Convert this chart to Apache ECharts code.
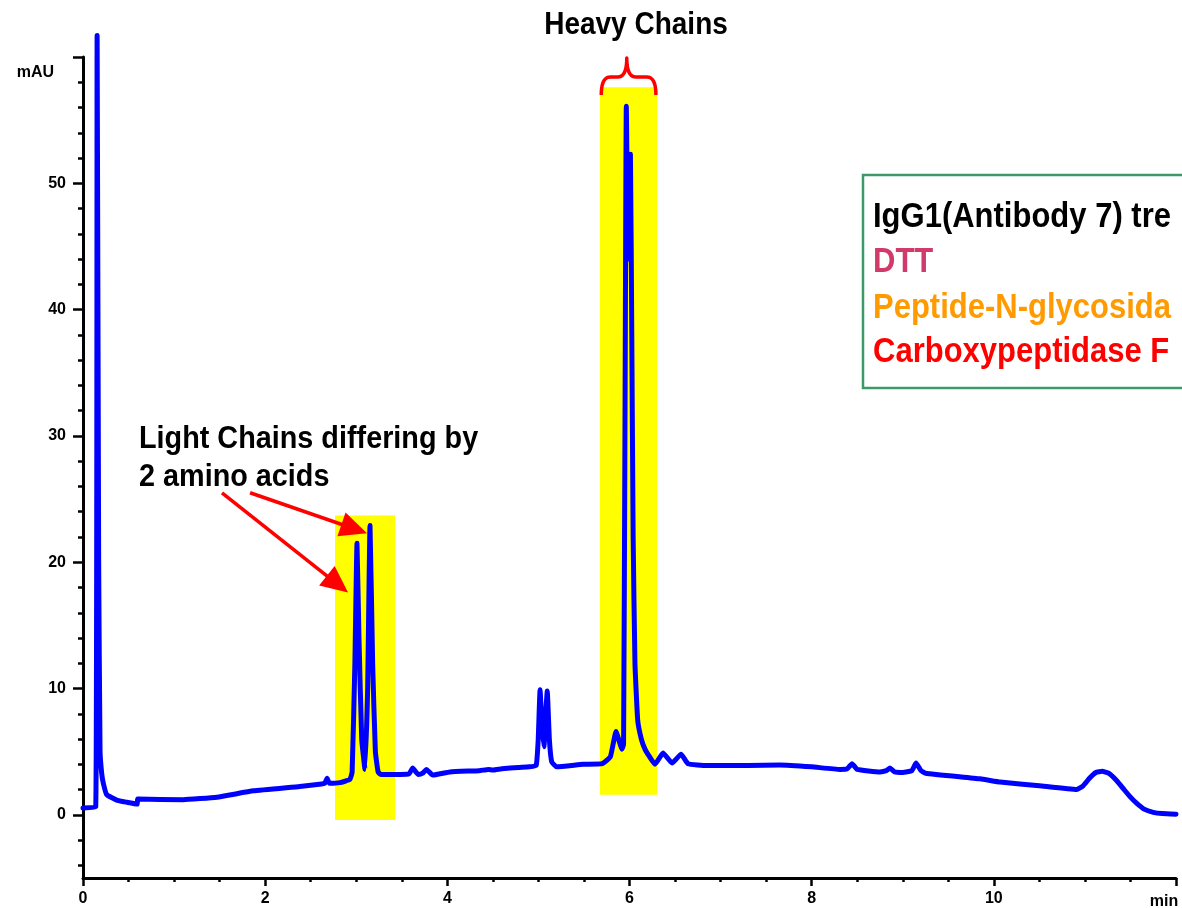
<!DOCTYPE html>
<html>
<head>
<meta charset="utf-8">
<script src="https://cdn.jsdelivr.net/npm/echarts@6/dist/echarts.min.js"></script>
<style>
  html, body { margin: 0; padding: 0; background: #ffffff; }
  #chart { width: 1182px; height: 908px; }
</style>
</head>
<body>
<div id="chart"></div>
<script>
// ---- data (retention time in min, absorbance in mAU) ----
const retentionTime = [
  0, 0.14, 0.155, 0.172, 0.187, 0.205, 0.223, 0.26, 0.37, 0.48, 0.595, 0.6,
  1.1, 1.47, 1.87, 2.38, 2.62, 2.655, 2.68, 2.705, 2.82, 2.93,
  2.955, 2.985, 3.008, 3.03, 3.06, 3.096, 3.125, 3.151, 3.18, 3.21, 3.24, 3.27,
  3.48, 3.58, 3.62, 3.68, 3.73, 3.77, 3.84, 4.03, 4.35, 4.45, 4.5, 4.6, 4.78, 4.9,
  4.975, 4.998, 5.018, 5.04, 5.061, 5.08, 5.097, 5.12, 5.146, 5.2,
  5.49, 5.7, 5.79, 5.852, 5.918, 5.935, 5.95, 5.965, 5.985, 6.01, 6.025, 6.04, 6.06, 6.09, 6.13, 6.17, 6.22, 6.28,
  6.368, 6.467, 6.566, 6.642, 6.85, 7.3, 7.65, 8.0, 8.31, 8.39, 8.443, 8.5,
  8.75, 8.82, 8.86, 8.91, 9.0, 9.1, 9.146, 9.2, 9.25, 9.85, 10.07, 10.5, 10.91,
  10.98, 11.05, 11.12, 11.19, 11.26, 11.35, 11.43, 11.5, 11.57, 11.65, 11.75, 11.85, 12.0
];
const absorbance = [
  0.55, 0.62, 61.7, 20, 5.1, 3.3, 2.5, 1.6, 1.17, 1.0, 0.85, 1.25,
  1.2, 1.4, 1.9, 2.25, 2.45, 2.5, 2.9, 2.5, 2.55, 2.8,
  3.4, 12, 21.5, 14, 6, 3.6, 10, 22.9, 12, 5, 3.4, 3.2,
  3.2, 3.25, 3.7, 3.2, 3.3, 3.6, 3.15, 3.4, 3.5, 3.6, 3.55, 3.65, 3.75, 3.8,
  3.9, 6, 9.9, 7, 5.4, 8, 9.8, 6, 4.2, 3.8,
  4.0, 4.05, 4.6, 6.6, 5.2, 5.6, 30, 56.1, 44, 52.3, 38, 22, 12, 7.5, 6, 5.2, 4.6, 4.0,
  4.9, 4.1, 4.8, 4.05, 3.9, 3.9, 3.95, 3.8, 3.6, 3.65, 4.05, 3.6,
  3.4, 3.5, 3.7, 3.4, 3.35, 3.5, 4.1, 3.5, 3.3, 2.85, 2.6, 2.3, 2.0,
  2.3, 2.9, 3.35, 3.45, 3.3, 2.7, 2.0, 1.4, 0.9, 0.45, 0.2, 0.1, 0.05
];
const xTickLabels = [0, 2, 4, 6, 8, 10, 12];
const yTickLabels = [0, 10, 20, 30, 40, 50, 60];
const yMinorTicks = [-4, -2, 2, 4, 6, 8, 12, 14, 16, 18, 22, 24, 26, 28, 32, 34, 36, 38, 42, 44, 46, 48, 52, 54, 56, 58];
// highlighted regions [xStart, yTop, xEnd, yBottom]
const highlightLight = [2.767, 23.7, 3.426, -0.4];
const highlightHeavy = [5.676, 57.6, 6.302, 1.6];
// annotation anchors
const arrowTails = [[1.526, 25.5], [1.834, 25.5]];
const arrowHeads = [[2.91, 17.6], [3.118, 22.3]];
const braceSpan = [5.69, 6.29];
const braceCenter = 5.97;

const FONT = "'Liberation Sans', Arial, sans-serif";
const seriesData = retentionTime.map((t, i) => [t, absorbance[i]]);

const chart = echarts.init(document.getElementById('chart'), null, { renderer: 'canvas' });

const option = {
  backgroundColor: '#ffffff',
  animation: false,
  grid: { left: 83, right: 6, top: 57, bottom: 30, containLabel: false, outerBoundsMode: 'none' },
  xAxis: {
    type: 'value', min: 0, max: 12, interval: 2,
    axisLine: { show: true, onZero: false, lineStyle: { color: '#000', width: 3 } },
    axisTick: { show: true, length: 8, lineStyle: { color: '#000', width: 2.5 } },
    minorTick: { show: true, splitNumber: 4, length: 4, lineStyle: { color: '#000', width: 2.5 } },
    splitLine: { show: false },
    axisLabel: {
      margin: 13, color: '#000', fontSize: 16, fontWeight: 'bold', fontFamily: FONT,
      formatter: v => v === 12 ? '{m|min}' : String(v),
      rich: { m: { fontSize: 16, fontWeight: 'bold', fontFamily: FONT, color: '#000', padding: [3, 24, 0, 0] } }
    }
  },
  yAxis: [{
    type: 'value', min: -5, max: 60,
    axisLine: { show: true, onZero: false, lineStyle: { color: '#000', width: 3 } },
    axisTick: { show: true, length: 10, customValues: yTickLabels, lineStyle: { color: '#000', width: 2.5 } },
    splitLine: { show: false },
    axisLabel: {
      margin: 17, color: '#000', fontSize: 16, fontWeight: 'bold', fontFamily: FONT,
      customValues: yTickLabels,
      formatter: v => v === 60 ? '{u|mAU}' : String(v),
      rich: { u: { fontSize: 16, fontWeight: 'bold', fontFamily: FONT, color: '#000', padding: [32, 12, 0, 0] } }
    }
  }, {
    type: 'value', min: -5, max: 60, position: 'left',
    axisLine: { show: false },
    axisTick: { show: true, length: 5, customValues: yMinorTicks, lineStyle: { color: '#000', width: 2.5 } },
    axisLabel: { show: false },
    splitLine: { show: false }
  }],
  series: [{
    type: 'line',
    data: seriesData,
    xAxisIndex: 0, yAxisIndex: 0,
    showSymbol: false, symbol: 'none',
    clip: false,
    smooth: 0.12,
    z: 3,
    lineStyle: { color: '#0000ff', width: 5, cap: 'round', join: 'round' },
    markArea: {
      silent: true,
      itemStyle: { color: '#ffff00', opacity: 1 },
      data: [
        [{ coord: [highlightLight[0], highlightLight[1]] }, { coord: [highlightLight[2], highlightLight[3]] }],
        [{ coord: [highlightHeavy[0], highlightHeavy[1]] }, { coord: [highlightHeavy[2], highlightHeavy[3]] }]
      ]
    }
  }]
};
chart.setOption(option);

// ---- annotations placed through the chart's coordinate system ----
const toPx = p => chart.convertToPixel({ xAxisIndex: 0, yAxisIndex: 0 }, p);
const graphics = [];

// arrows
for (let i = 0; i < arrowTails.length; i++) {
  const T = toPx(arrowTails[i]);
  const H = toPx(arrowHeads[i]);
  const dx = H[0] - T[0], dy = H[1] - T[1];
  const len = Math.sqrt(dx * dx + dy * dy);
  const ux = dx / len, uy = dy / len;
  const nx = -uy, ny = ux;
  const headLen = 27, headW = 25;
  const B = [H[0] - ux * headLen, H[1] - uy * headLen];
  graphics.push({
    type: 'line', z: 10,
    shape: { x1: T[0], y1: T[1], x2: B[0] + ux * 2, y2: B[1] + uy * 2 },
    style: { stroke: '#ff0000', lineWidth: 3.5 }
  });
  graphics.push({
    type: 'polygon', z: 10,
    shape: { points: [H, [B[0] + nx * headW / 2, B[1] + ny * headW / 2], [B[0] - nx * headW / 2, B[1] - ny * headW / 2]] },
    style: { fill: '#ff0000' }
  });
}

// brace
(function () {
  const L = toPx([braceSpan[0], 0]);
  const R = toPx([braceSpan[1], 0]);
  const C = toPx([braceCenter, 0]);
  const top = toPx([0, 60])[1];
  const yEnd = top + 38, yh = top + 20, yTop = top + 1, r = 9;
  function quad(p0, p1, p2, n) {
    const pts = [];
    for (let k = 1; k <= n; k++) {
      const t = k / n;
      pts.push([(1 - t) * (1 - t) * p0[0] + 2 * (1 - t) * t * p1[0] + t * t * p2[0],
                (1 - t) * (1 - t) * p0[1] + 2 * (1 - t) * t * p1[1] + t * t * p2[1]]);
    }
    return pts;
  }
  let pts = [[L[0], yEnd]];
  pts = pts.concat(quad([L[0], yEnd], [L[0], yh], [L[0] + r, yh], 10));
  pts.push([C[0] - r, yh]);
  pts = pts.concat(quad([C[0] - r, yh], [C[0], yh], [C[0], yTop], 10));
  pts = pts.concat(quad([C[0], yTop], [C[0], yh], [C[0] + r, yh], 10));
  pts.push([R[0] - r, yh]);
  pts = pts.concat(quad([R[0] - r, yh], [R[0], yh], [R[0], yEnd], 10));
  graphics.push({
    type: 'polyline', z: 10,
    shape: { points: pts },
    style: { stroke: '#ff0000', lineWidth: 3.5, fill: null, lineJoin: 'round' }
  });
})();

// texts
const txt = (text, x, y, size, color, align, sy) => ({
  type: 'text', z: 12, x: x, y: y, scaleY: sy || 1,
  style: { text: text, fontSize: size, fontWeight: 'bold', fontFamily: FONT, fill: color,
           align: align || 'left', verticalAlign: 'middle' }
});
graphics.push(txt('Heavy Chains', 636, 25, 28, '#000', 'center', 1.15));
graphics.push(txt('Light Chains differing by', 139, 439, 28.8, '#000', 'left', 1.1));
graphics.push(txt('2 amino acids', 139, 477, 28.8, '#000', 'left', 1.1));

// legend box
graphics.push({
  type: 'rect', z: 11,
  shape: { x: 863, y: 175, width: 345, height: 213 },
  style: { fill: '#ffffff', stroke: '#3a9a6a', lineWidth: 2.5 }
});
graphics.push(txt('IgG1(Antibody 7) tre', 873, 217, 31, '#000', 'left', 1.12));
graphics.push(txt('DTT', 873, 262, 31, '#d13b6b', 'left', 1.12));
graphics.push(txt('Peptide-N-glycosida', 873, 308, 31, '#ff9a00', 'left', 1.12));
graphics.push(txt('Carboxypeptidase F', 873, 352, 31, '#ff0000', 'left', 1.12));

chart.setOption({ graphic: graphics });
</script>
</body>
</html>
